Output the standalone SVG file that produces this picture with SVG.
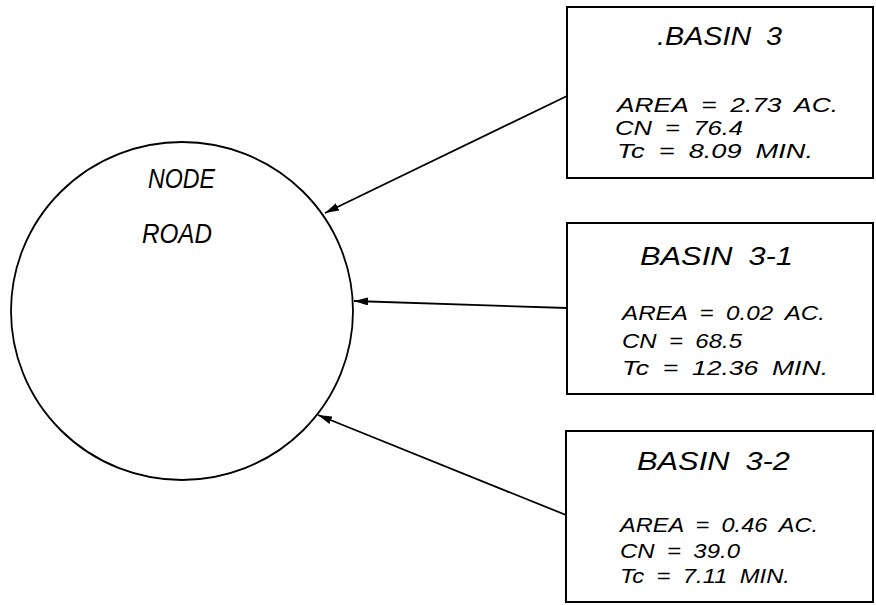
<svg xmlns="http://www.w3.org/2000/svg" width="876" height="605" viewBox="0 0 876 605">
<style>
.t{font-family:"Liberation Sans",Arial,sans-serif;font-style:italic;fill:#000}
.h{font-size:25px;word-spacing:6px}
.s{font-size:21px;word-spacing:5px}
.n{font-size:28px}
.box{fill:#fff;stroke:#000;stroke-width:2}
.c{fill:#fff;stroke:#000;stroke-width:1.8}
.e{stroke:#000;stroke-width:1.8;fill:none;marker-end:url(#ah)}
</style>
<defs>
<marker id="ah" viewBox="0 0 14 8" refX="14" refY="4" markerWidth="14" markerHeight="8" markerUnits="userSpaceOnUse" orient="auto">
<path d="M0,0 L14,4 L0,8 Z" fill="#000"/>
</marker>
</defs>
<rect width="876" height="605" fill="#fff"/>
<g id="node-road">
<ellipse class="c" cx="182" cy="311" rx="171" ry="169"/>
<text class="t n" x="148" y="188" textLength="67" lengthAdjust="spacingAndGlyphs">NODE</text>
<text class="t n" x="142" y="243" textLength="70" lengthAdjust="spacingAndGlyphs">ROAD</text>
</g>
<g id="basin-3">
<rect class="box" x="567" y="7" width="306" height="171"/>
<text class="t h" x="657" y="45" textLength="125" lengthAdjust="spacingAndGlyphs">.BASIN 3</text>
<text class="t s" x="617" y="112" textLength="221" lengthAdjust="spacingAndGlyphs">AREA = 2.73 AC.</text>
<text class="t s" x="615" y="135" textLength="128" lengthAdjust="spacingAndGlyphs">CN = 76.4</text>
<text class="t s" x="617" y="158" textLength="196" lengthAdjust="spacingAndGlyphs">Tc = 8.09 MIN.</text>
</g>
<g id="basin-3-1">
<rect class="box" x="567" y="223" width="306" height="171"/>
<text class="t h" x="640" y="265" textLength="153" lengthAdjust="spacingAndGlyphs">BASIN 3-1</text>
<text class="t s" x="622" y="320" textLength="203" lengthAdjust="spacingAndGlyphs">AREA = 0.02 AC.</text>
<text class="t s" x="622" y="348" textLength="120" lengthAdjust="spacingAndGlyphs">CN = 68.5</text>
<text class="t s" x="622" y="375" textLength="206" lengthAdjust="spacingAndGlyphs">Tc = 12.36 MIN.</text>
</g>
<g id="basin-3-2">
<rect class="box" x="566" y="431" width="307" height="171"/>
<text class="t h" x="637" y="470" textLength="153" lengthAdjust="spacingAndGlyphs">BASIN 3-2</text>
<text class="t s" x="620" y="532" textLength="198" lengthAdjust="spacingAndGlyphs">AREA = 0.46 AC.</text>
<text class="t s" x="620" y="558" textLength="120" lengthAdjust="spacingAndGlyphs">CN = 39.0</text>
<text class="t s" x="620" y="583" textLength="170" lengthAdjust="spacingAndGlyphs">Tc = 7.11 MIN.</text>
</g>
<g id="connectors">
<line class="e" x1="567" y1="96" x2="325" y2="213"/>
<line class="e" x1="567" y1="308" x2="354" y2="301"/>
<line class="e" x1="566" y1="515" x2="318" y2="415"/>
</g>
</svg>
